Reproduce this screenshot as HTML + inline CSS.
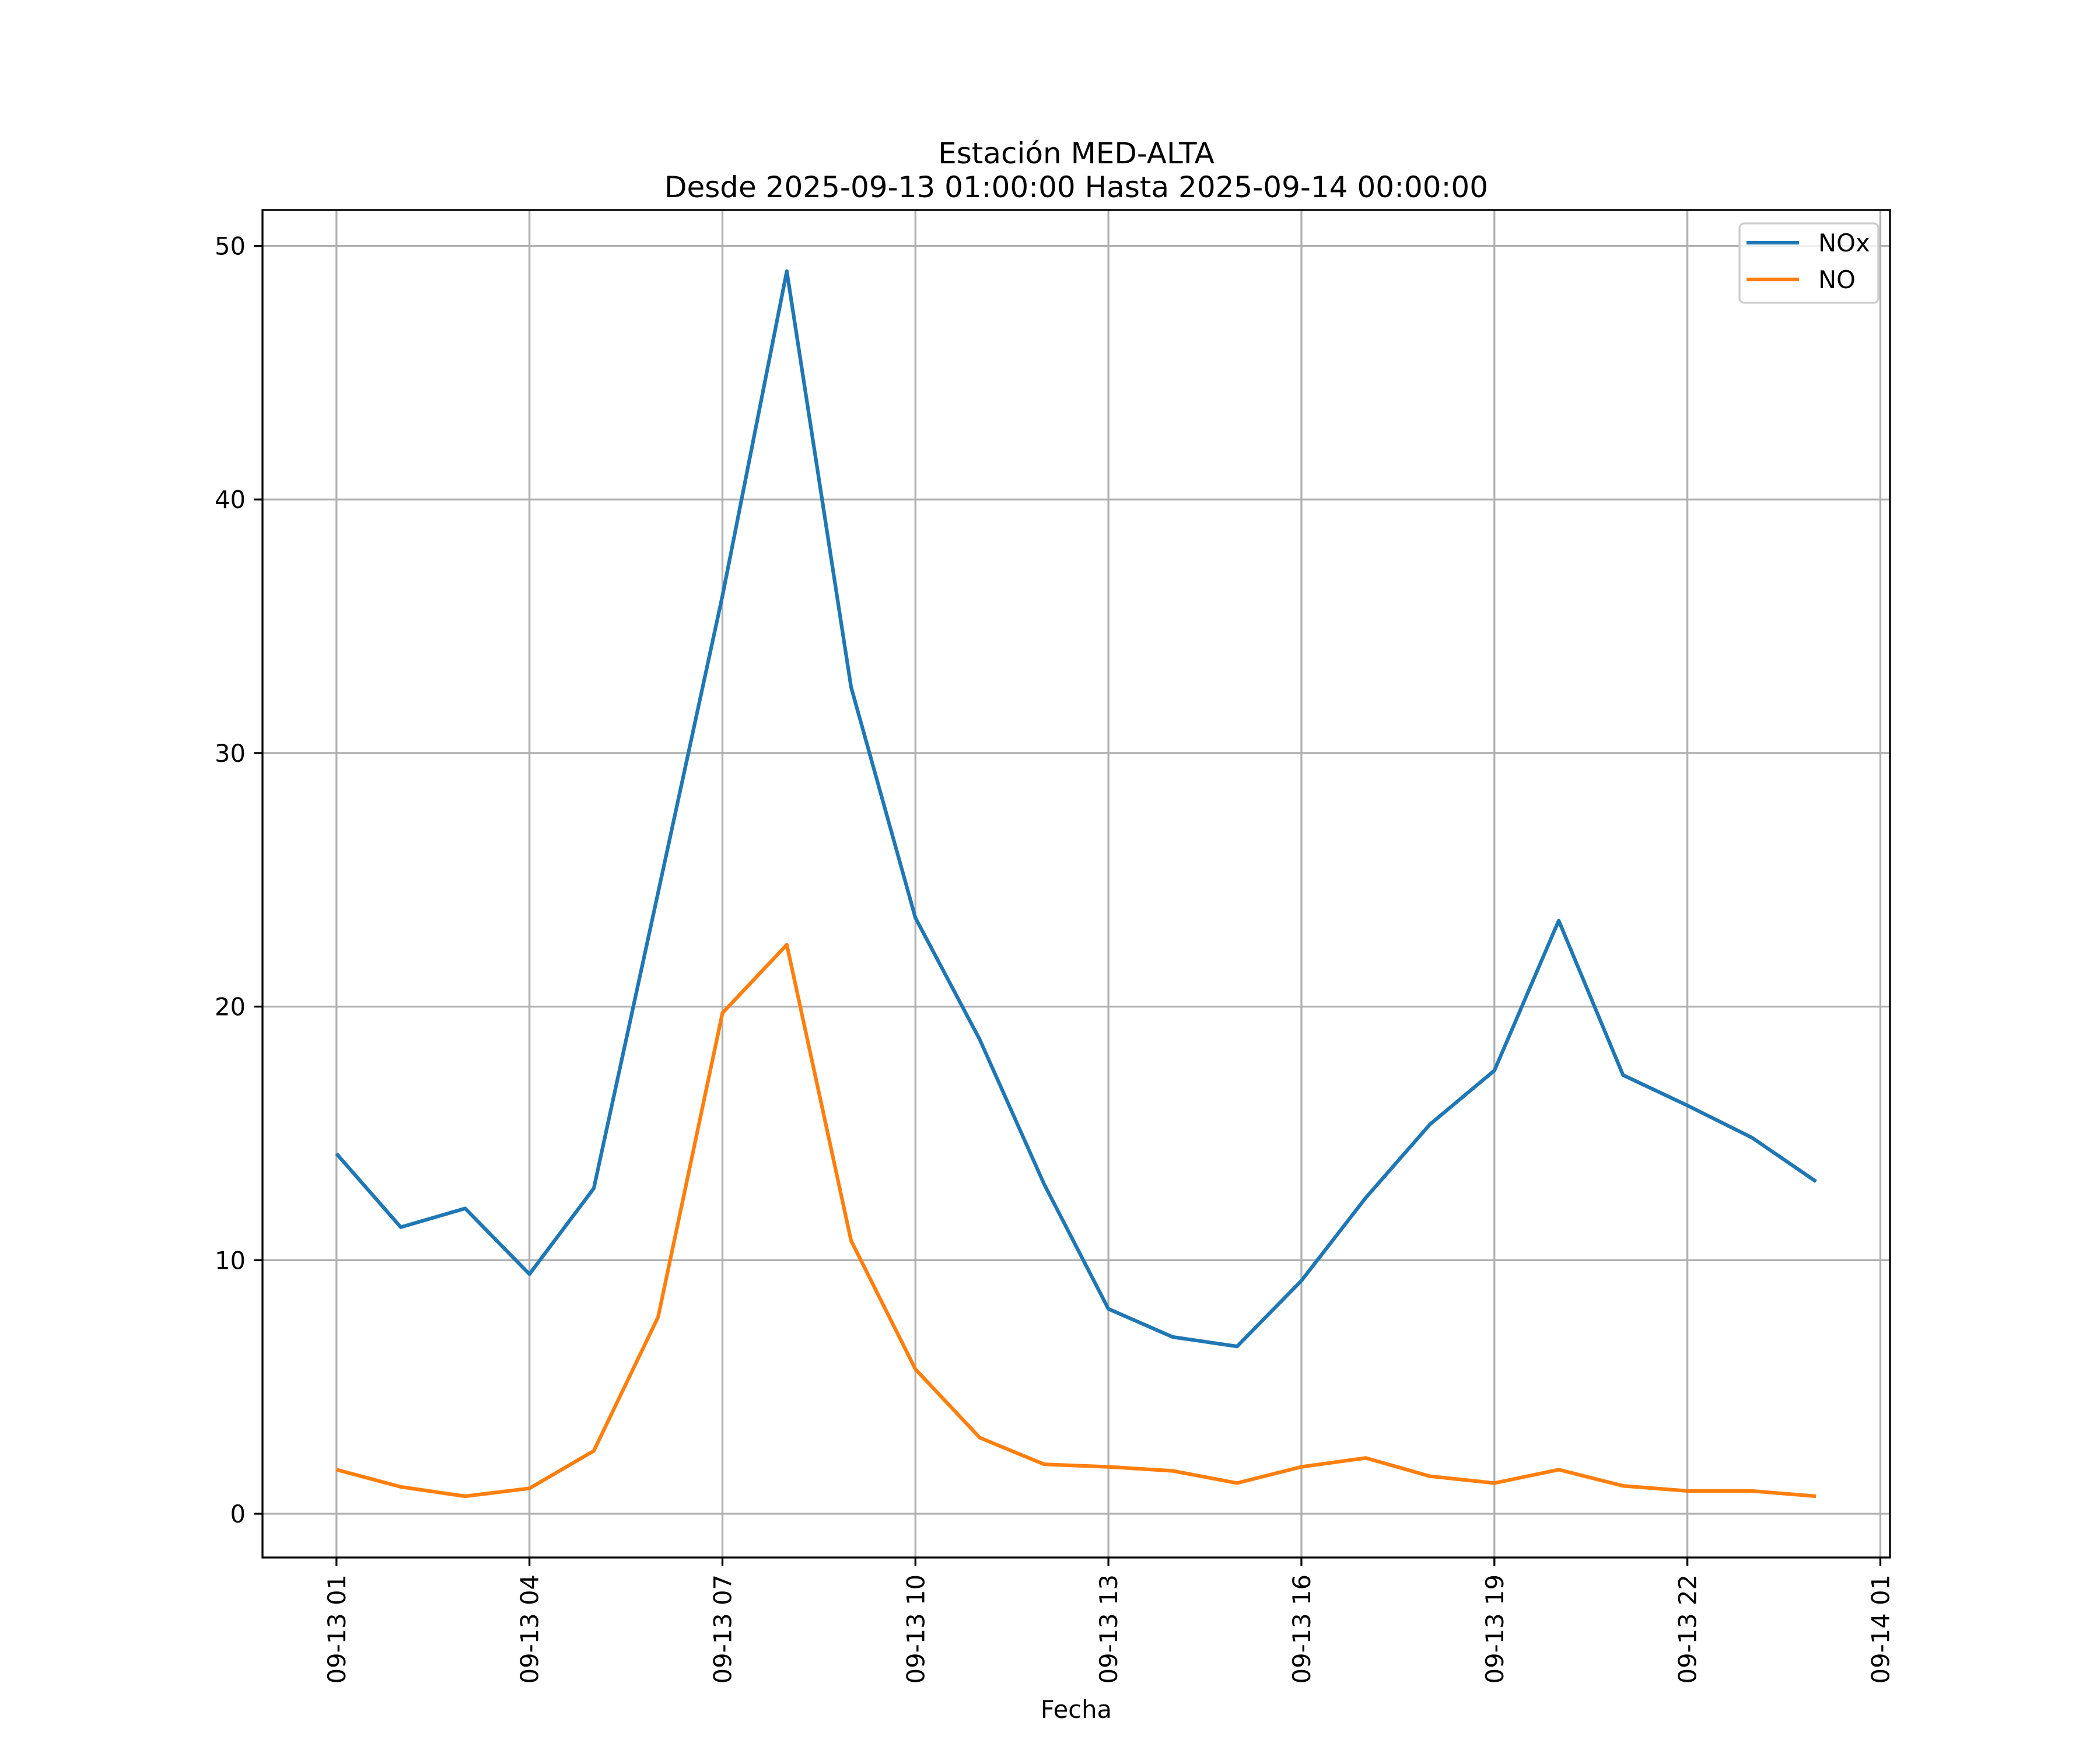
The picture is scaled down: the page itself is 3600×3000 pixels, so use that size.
<!DOCTYPE html>
<html><head><meta charset="utf-8"><style>
html,body{margin:0;padding:0;background:#fff;}
svg{display:block;font-family:"DejaVu Sans","Liberation Sans",sans-serif;}
</style></head><body>
<svg id="chart" width="3600" height="3000" viewBox="0 0 3600 3000" xmlns="http://www.w3.org/2000/svg">
<rect width="3600" height="3000" fill="#fff"/>
<text x="1845" y="280" font-size="50" text-anchor="middle">Estación MED-ALTA</text>
<text x="1845" y="338" font-size="50" text-anchor="middle">Desde 2025-09-13 01:00:00 Hasta 2025-09-14 00:00:00</text>
<g id="grid"></g>
<g id="series"></g>
<rect x="450" y="360" width="2790" height="2310" fill="none" stroke="#000" stroke-width="3.3"/>
<g id="ticks"></g>
<text x="1845" y="2945" font-size="41.7" text-anchor="middle">Fecha</text>
<g>
<rect x="2982" y="383" width="238" height="136" rx="8" fill="#fff" fill-opacity="0.8" stroke="#cccccc" stroke-width="3.3"/>
<g>
<line x1="2994" y1="416" x2="3084" y2="416" stroke="#1f77b4" stroke-width="6.25"/>
<text x="3117" y="431" font-size="41.7">NOx</text></g>
<g>
<line x1="2994" y1="479" x2="3084" y2="479" stroke="#ff7f0e" stroke-width="6.25"/>
<text x="3117" y="494" font-size="41.7">NO</text></g>
</g>
</svg>
<script>
const hours = [1,2,3,4,5,6,7,8,9,10,11,12,13,14,15,16,17,18,19,20,21,22,23,24];
const noxValues = [14.2,11.3,12.04,9.45,12.83,24.5,36.2,49.0,32.6,23.5,18.7,13.0,8.08,6.97,6.6,9.19,12.46,15.36,17.48,23.39,17.3,16.1,14.84,13.1];
const noValues = [1.74,1.06,0.69,1.0,2.48,7.76,19.75,22.44,10.77,5.7,3.0,1.95,1.85,1.69,1.21,1.85,2.2,1.48,1.21,1.74,1.1,0.9,0.9,0.69];
const xTickHours = [1,4,7,10,13,16,19,22,25];
const xTickLabels = ["09-13 01","09-13 04","09-13 07","09-13 10","09-13 13","09-13 16","09-13 19","09-13 22","09-14 01"];
const yTicks = [0,10,20,30,40,50];

const NS="http://www.w3.org/2000/svg";
const L=450,R=3240,T=360,B=2670;
const hMin=Math.min(...hours),hMax=Math.max(...hours),hPad=(hMax-hMin)*0.05;
const x0=hMin-hPad,x1=hMax+hPad;
const all=noxValues.concat(noValues);
const vMin=Math.min(...all),vMax=Math.max(...all),vPad=(vMax-vMin)*0.05;
const y0=vMin-vPad,y1=vMax+vPad;
const sx=h=>L+(h-x0)/(x1-x0)*(R-L);
const sy=v=>B-(v-y0)/(y1-y0)*(B-T);
function mk(tag,attrs,parent){const e=document.createElementNS(NS,tag);for(const k in attrs)e.setAttribute(k,attrs[k]);parent.appendChild(e);return e;}
const grid=document.getElementById('grid'),ticks=document.getElementById('ticks'),series=document.getElementById('series');
xTickHours.forEach((h,i)=>{
  const x=sx(h);
  const g=mk('line',{x1:x,y1:T,x2:x,y2:B,stroke:'#b0b0b0','stroke-width':3.3},grid);
  
  
  const t=mk('line',{x1:x,y1:B,x2:x,y2:B+14.6,stroke:'#000','stroke-width':3.3},ticks);
  
  
  const lb=mk('text',{x:0,y:0,'font-size':41.7,'text-anchor':'end',transform:`translate(${x+15},${B+29}) rotate(-90)`},ticks);
  lb.textContent=xTickLabels[i];
  
  
});
yTicks.forEach(v=>{
  const y=sy(v);
  const g=mk('line',{x1:L,y1:y,x2:R,y2:y,stroke:'#b0b0b0','stroke-width':3.3},grid);
  
  
  const t=mk('line',{x1:L-14.6,y1:y,x2:L,y2:y,stroke:'#000','stroke-width':3.3},ticks);
  
  
  const lb=mk('text',{x:L-29,y:y+15,'font-size':41.7,'text-anchor':'end'},ticks);
  lb.textContent=String(v);
  
  
});
function line(vals,color,name){
  const pts=vals.map((v,i)=>sx(hours[i]).toFixed(1)+','+sy(v).toFixed(1)).join(' ');
  const p=mk('polyline',{points:pts,fill:'none',stroke:color,'stroke-width':6.25,'stroke-linejoin':'round','stroke-linecap':'butt'},series);
  
  
}
line(noxValues,'#1f77b4','nox-line');
line(noValues,'#ff7f0e','no-line');
</script>
</body></html>
